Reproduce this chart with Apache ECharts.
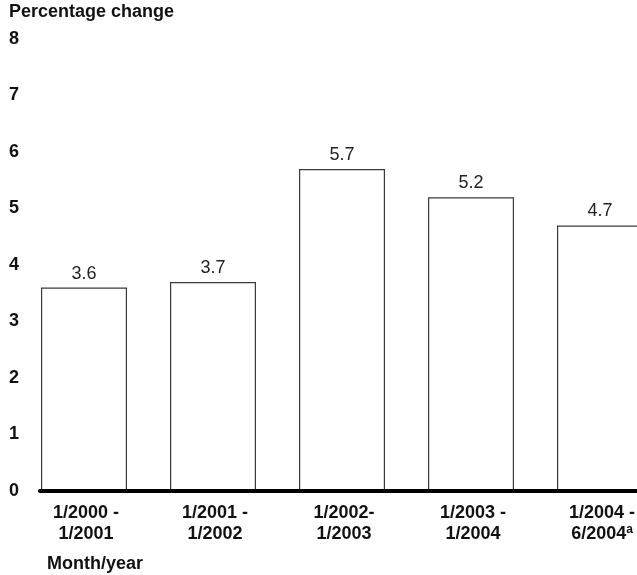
<!DOCTYPE html>
<html>
<head>
<meta charset="utf-8">
<script src="https://cdn.jsdelivr.net/npm/echarts@6/dist/echarts.min.js"></script>
<style>
  html, body { margin: 0; padding: 0; background: #fff; }
  #chart { width: 637px; height: 575px; }
</style>
</head>
<body>
<div id="chart"></div>
<script>
// Period labels (two lines each) and footnote markers per period
const periods = ['1/2000 -\n1/2001', '1/2001 -\n1/2002', '1/2002-\n1/2003', '1/2003 -\n1/2004', '1/2004 -\n6/2004'];
const notes = ['', '', '', '', 'a'];
// Percentage change for each period
const pctChange = [3.6, 3.7, 5.7, 5.2, 4.7];
// Value axis ticks
const yTicks = [0, 1, 2, 3, 4, 5, 6, 7, 8];

const FONT = '"Liberation Sans", Arial, Helvetica, sans-serif';

const chart = echarts.init(document.getElementById('chart'), null, { renderer: 'canvas' });

chart.setOption({
  backgroundColor: '#ffffff',
  animation: false,
  title: [
    {
      text: 'Percentage change',
      left: 9, top: 3, padding: 0,
      textStyle: { fontFamily: FONT, fontSize: 18, fontWeight: 'bold', color: '#111' }
    },
    {
      text: 'Month/year',
      left: 47, top: 555, padding: 0,
      textStyle: { fontFamily: FONT, fontSize: 18, fontWeight: 'bold', color: '#111' }
    }
  ],
  // the plot runs past the right edge, so the last bar is cut off
  grid: { left: 40, top: 39, bottom: 84, width: 645, containLabel: false, outerBoundsMode: 'none' },
  xAxis: {
    type: 'category',
    data: periods,
    boundaryGap: true,
    z: 5,
    axisLine: { show: true, lineStyle: { color: '#000', width: 4 } },
    axisTick: { show: false },
    splitLine: { show: false },
    axisLabel: {
      interval: 0,
      margin: 12,
      padding: [0, 37, 0, 0],
      fontFamily: FONT,
      formatter: function (v, i) {
        const lines = v.split('\n');
        const last = '{b|' + lines[1] + '}' + (notes[i] ? '{sup|' + notes[i] + '}' : '');
        return '{b|' + lines[0] + '}\n' + last;
      },
      rich: {
        b: { fontFamily: FONT, fontSize: 18, fontWeight: 'bold', color: '#111', lineHeight: 21 },
        sup: { fontFamily: FONT, fontSize: 12, fontWeight: 'bold', color: '#111', lineHeight: 21, verticalAlign: 'top' }
      }
    }
  },
  yAxis: {
    type: 'value',
    min: yTicks[0],
    max: yTicks[yTicks.length - 1],
    interval: 1,
    axisLine: { show: false },
    axisTick: { show: false },
    splitLine: { show: false },
    axisLabel: {
      margin: 21,
      padding: [0, 0, 5, 0],
      fontFamily: FONT, fontSize: 18, fontWeight: 'bold', color: '#111'
    }
  },
  series: [
    {
      name: 'Percentage change',
      type: 'bar',
      data: pctChange,
      barWidth: 86,
      barGap: '0%',
      itemStyle: { color: '#ffffff', borderColor: '#3a3a3a', borderWidth: 1.2 },
      label: {
        show: true,
        position: 'top',
        distance: 5,
        fontFamily: FONT, fontSize: 18, color: '#222',
        formatter: p => p.value.toFixed(1)
      },
      z: 2
    },
    {
      // empty spacer series: keeps each bar at the left of its band
      name: 'spacer',
      type: 'bar',
      data: [],
      barWidth: 41,
      barGap: '0%',
      silent: true
    }
  ]
});
</script>
</body>
</html>
